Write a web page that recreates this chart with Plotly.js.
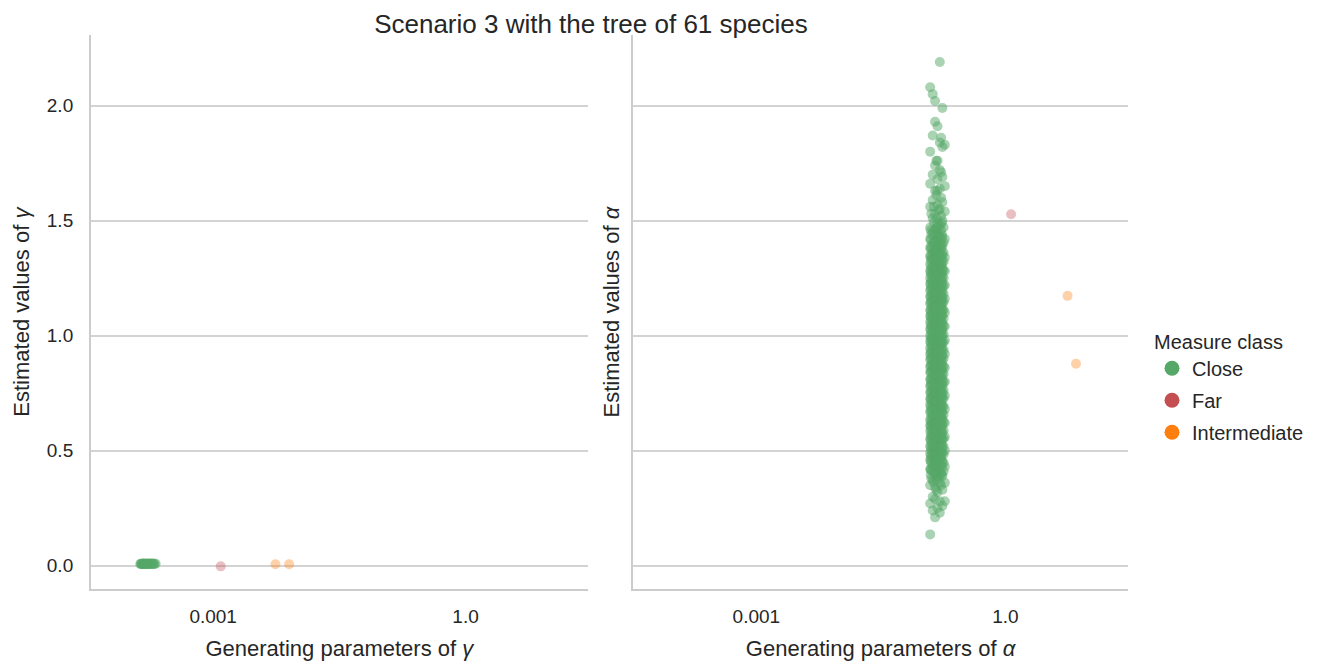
<!DOCTYPE html>
<html>
<head>
<meta charset="utf-8">
<script src="https://cdn.plot.ly/plotly-3.0.1.min.js"></script>
<style>html,body{margin:0;padding:0;background:#fff;}#chart{width:1322px;height:663px;}</style>
</head>
<body>
<div id="chart"></div>
<script>
// ---------- DATA ----------
const classes = ["Close", "Far", "Intermediate"];
const classColors = ["#55a868", "#c44e52", "#ff7f0e"];

// Left panel (gamma): Close points
const closeGammaX = [1.36e-4, 1.39e-4, 1.41e-4, 1.44e-4, 1.46e-4, 1.49e-4, 1.51e-4, 1.54e-4, 1.57e-4, 1.60e-4, 1.63e-4,
  1.66e-4, 1.69e-4, 1.72e-4, 1.75e-4, 1.79e-4, 1.83e-4, 1.87e-4, 1.91e-4, 1.95e-4, 2.00e-4, 2.07e-4];
const closeGammaY = [0.007, 0.008, 0.006, 0.009, 0.007, 0.008, 0.010, 0.006, 0.007, 0.009, 0.008,
  0.007, 0.006, 0.009, 0.008, 0.007, 0.010, 0.008, 0.006, 0.009, 0.007, 0.008];
// Left panel: Far and Intermediate
const farGammaX = [0.00123];
const farGammaY = [-0.003];
const interGammaX = [0.0055, 0.0080];
const interGammaY = [0.006, 0.006];

// Right panel (alpha): Close points, grouped by generating value
const closeAlphaCols = [0.124, 0.126, 0.128, 0.133, 0.137, 0.142, 0.147, 0.150, 0.152, 0.157, 0.162, 0.168, 0.171, 0.174, 0.180, 0.186];
const closeAlphaY_A = [0.136, 0.27, 0.35, 0.42, 0.46, 0.49, 0.52, 0.55, 0.585, 0.61, 0.635, 0.67, 0.70, 0.725, 0.755, 0.78, 0.81, 0.84, 0.865, 0.895, 0.92, 0.945, 0.975, 1.0, 1.03, 1.06, 1.085, 1.11, 1.14, 1.17, 1.195, 1.225, 1.25, 1.28, 1.31, 1.345, 1.38, 1.42, 1.47, 1.56, 1.66, 1.80, 2.08];
const closeAlphaY_K = [0.395, 0.418, 0.455, 0.479, 0.514, 0.546, 0.568, 0.603, 0.628, 0.664, 0.689, 0.724, 0.749, 0.786, 0.808, 0.843, 0.869, 0.904, 0.929, 0.966, 0.988, 1.024, 1.049, 1.083, 1.108, 1.146, 1.168, 1.204, 1.229, 1.266, 1.288, 1.326, 1.349, 1.388, 1.416, 1.458];
const closeAlphaY_H = [0.38, 0.415, 0.445, 0.47, 0.50, 0.53, 0.56, 0.59, 0.615, 0.645, 0.675, 0.705, 0.73, 0.76, 0.79, 0.815, 0.845, 0.875, 0.90, 0.93, 0.955, 0.985, 1.01, 1.04, 1.07, 1.095, 1.125, 1.15, 1.18, 1.21, 1.24, 1.27, 1.30, 1.335, 1.375, 1.44, 1.53];
const closeAlphaY_B = [0.24, 0.30, 0.37, 0.43, 0.475, 0.505, 0.535, 0.565, 0.595, 0.62, 0.65, 0.68, 0.71, 0.735, 0.765, 0.79, 0.82, 0.85, 0.875, 0.905, 0.93, 0.96, 0.985, 1.015, 1.04, 1.07, 1.095, 1.125, 1.155, 1.18, 1.21, 1.235, 1.265, 1.295, 1.33, 1.36, 1.40, 1.45, 1.51, 1.59, 1.70, 1.87, 2.05];
const closeAlphaY_L = [0.362, 0.404, 0.437, 0.463, 0.497, 0.521, 0.557, 0.583, 0.617, 0.643, 0.677, 0.701, 0.737, 0.763, 0.797, 0.823, 0.857, 0.881, 0.917, 0.943, 0.977, 1.003, 1.037, 1.061, 1.097, 1.123, 1.157, 1.183, 1.217, 1.241, 1.277, 1.303, 1.337, 1.367, 1.402, 1.437, 1.492, 1.56];
const closeAlphaY_C = [0.21, 0.29, 0.34, 0.40, 0.45, 0.485, 0.515, 0.545, 0.575, 0.60, 0.63, 0.655, 0.685, 0.715, 0.745, 0.77, 0.80, 0.83, 0.855, 0.885, 0.91, 0.94, 0.965, 0.995, 1.02, 1.05, 1.08, 1.10, 1.13, 1.16, 1.19, 1.215, 1.245, 1.275, 1.305, 1.34, 1.37, 1.41, 1.46, 1.53, 1.63, 1.74, 1.93, 2.02];
const closeAlphaY_I = [0.33, 0.385, 0.425, 0.46, 0.495, 0.525, 0.555, 0.58, 0.61, 0.64, 0.67, 0.695, 0.725, 0.755, 0.78, 0.81, 0.84, 0.865, 0.895, 0.925, 0.95, 0.975, 1.005, 1.035, 1.06, 1.09, 1.12, 1.145, 1.175, 1.20, 1.23, 1.26, 1.29, 1.325, 1.36, 1.40, 1.47, 1.61, 1.76];
const closeAlphaY_M = [0.372, 0.409, 0.441, 0.467, 0.503, 0.527, 0.563, 0.589, 0.622, 0.648, 0.683, 0.709, 0.742, 0.768, 0.803, 0.829, 0.862, 0.888, 0.922, 0.948, 0.983, 1.009, 1.042, 1.068, 1.103, 1.129, 1.162, 1.188, 1.223, 1.249, 1.282, 1.308, 1.343, 1.374, 1.413, 1.452, 1.51, 1.63];
const closeAlphaY_D = [0.25, 0.32, 0.39, 0.44, 0.48, 0.51, 0.54, 0.57, 0.60, 0.625, 0.655, 0.685, 0.71, 0.74, 0.77, 0.795, 0.825, 0.85, 0.88, 0.91, 0.935, 0.96, 0.99, 1.015, 1.045, 1.075, 1.10, 1.13, 1.16, 1.185, 1.215, 1.24, 1.27, 1.30, 1.335, 1.37, 1.41, 1.44, 1.49, 1.57, 1.68, 1.76, 1.91];
const closeAlphaY_N = [0.386, 0.426, 0.451, 0.486, 0.509, 0.546, 0.571, 0.606, 0.629, 0.666, 0.691, 0.726, 0.749, 0.786, 0.811, 0.846, 0.869, 0.906, 0.931, 0.966, 0.989, 1.026, 1.051, 1.086, 1.109, 1.146, 1.171, 1.206, 1.229, 1.266, 1.291, 1.326, 1.352, 1.392, 1.432, 1.474, 1.545];
const closeAlphaY_E = [0.23, 0.28, 0.36, 0.41, 0.465, 0.495, 0.525, 0.555, 0.585, 0.615, 0.645, 0.675, 0.70, 0.73, 0.76, 0.785, 0.815, 0.845, 0.87, 0.90, 0.925, 0.955, 0.98, 1.01, 1.035, 1.065, 1.09, 1.12, 1.15, 1.175, 1.205, 1.23, 1.26, 1.29, 1.32, 1.355, 1.39, 1.43, 1.48, 1.55, 1.64, 1.72, 1.84, 2.19];
const closeAlphaY_J = [0.35, 0.40, 0.435, 0.47, 0.50, 0.53, 0.56, 0.59, 0.62, 0.65, 0.68, 0.705, 0.735, 0.765, 0.79, 0.82, 0.85, 0.88, 0.905, 0.935, 0.965, 0.99, 1.02, 1.05, 1.08, 1.105, 1.135, 1.16, 1.19, 1.22, 1.25, 1.28, 1.31, 1.345, 1.38, 1.42, 1.46, 1.52, 1.60, 1.71, 1.86];
const closeAlphaY_O = [0.397, 0.431, 0.458, 0.491, 0.518, 0.551, 0.578, 0.611, 0.638, 0.671, 0.698, 0.731, 0.758, 0.791, 0.818, 0.851, 0.878, 0.911, 0.938, 0.971, 0.998, 1.031, 1.058, 1.091, 1.118, 1.151, 1.178, 1.211, 1.238, 1.271, 1.298, 1.331, 1.362, 1.398, 1.441, 1.49];
const closeAlphaY_F = [0.26, 0.33, 0.39, 0.45, 0.49, 0.52, 0.55, 0.58, 0.61, 0.64, 0.665, 0.695, 0.725, 0.75, 0.78, 0.805, 0.835, 0.86, 0.89, 0.915, 0.945, 0.97, 1.0, 1.025, 1.055, 1.085, 1.11, 1.14, 1.165, 1.195, 1.225, 1.255, 1.285, 1.315, 1.35, 1.39, 1.43, 1.50, 1.58, 1.69, 1.82, 1.99];
const closeAlphaY_P = [0.41, 0.447, 0.484, 0.518, 0.553, 0.589, 0.624, 0.657, 0.693, 0.728, 0.762, 0.797, 0.833, 0.866, 0.902, 0.937, 0.971, 1.006, 1.042, 1.075, 1.111, 1.146, 1.181, 1.215, 1.251, 1.284, 1.322, 1.361, 1.405, 1.47];
const closeAlphaY_G = [0.28, 0.36, 0.43, 0.50, 0.56, 0.62, 0.68, 0.74, 0.80, 0.86, 0.92, 0.98, 1.04, 1.10, 1.16, 1.22, 1.28, 1.34, 1.42, 1.54, 1.65, 1.83];
const closeAlphaYCols = [closeAlphaY_A, closeAlphaY_K, closeAlphaY_H, closeAlphaY_B, closeAlphaY_L, closeAlphaY_C,
  closeAlphaY_I, closeAlphaY_M, closeAlphaY_D, closeAlphaY_N, closeAlphaY_E, closeAlphaY_J, closeAlphaY_O,
  closeAlphaY_F, closeAlphaY_P, closeAlphaY_G];
// Right panel: Far and Intermediate
const farAlphaX = [1.17];
const farAlphaY = [1.528];
const interAlphaX = [5.6, 7.08];
const interAlphaY = [1.173, 0.878];

const xTickVals = [0.001, 1];
const xTickText = ["0.001", "1.0"];
const yTickVals = [0, 0.5, 1, 1.5, 2];
const yTickText = ["0.0", "0.5", "1.0", "1.5", "2.0"];

// ---------- BUILD ----------
const closeAlphaX = [], closeAlphaY = [];
closeAlphaCols.forEach((cx, i) => {
  closeAlphaYCols[i].forEach(v => { closeAlphaX.push(cx); closeAlphaY.push(v); });
});

const ptSize = 10, ptOpacity = 0.36;
function pts(x, y, color, xa, ya, op) {
  return {type: "scatter", mode: "markers", x: x, y: y, xaxis: xa, yaxis: ya,
    marker: {color: color, size: ptSize, opacity: op, line: {width: 0}},
    showlegend: false, hoverinfo: "x+y"};
}
const traces = [
  pts(closeGammaX, closeGammaY, classColors[0], "x", "y", 0.55),
  pts(farGammaX, farGammaY, classColors[1], "x", "y", ptOpacity),
  pts(interGammaX, interGammaY, classColors[2], "x", "y", ptOpacity),
  pts(closeAlphaX, closeAlphaY, classColors[0], "x2", "y2", 0.5),
  pts(farAlphaX, farAlphaY, classColors[1], "x2", "y2", ptOpacity),
  pts(interAlphaX, interAlphaY, classColors[2], "x2", "y2", ptOpacity)
];
// legend entries (full-opacity markers, as in the reference legend)
classes.forEach((c, i) => {
  traces.push({type: "scatter", mode: "markers", x: [null], y: [null], name: c, legendgroup: c,
    marker: {color: classColors[i], size: 15}, showlegend: true, xaxis: "x2", yaxis: "y2"});
});

const textCol = "#262626";
const gridCol = "#d3d3d3";
const fam = "Liberation Sans, Arial";
function xAxis(dom, rng, title) {
  return {domain: dom, type: "log", range: rng, tickvals: xTickVals, ticktext: xTickText,
    showgrid: false, zeroline: false, showline: true, linecolor: "#cccccc", linewidth: 2,
    ticks: "outside", ticklen: 9, tickcolor: "rgba(0,0,0,0)",
    tickfont: {family: fam, size: 19, color: textCol},
    title: {text: title, font: {family: fam, size: 22, color: textCol}, standoff: 15},
    fixedrange: true};
}
function yAxis(showLabels, title, anchor, tlen, stand) {
  return {domain: [0.1112, 0.9472], range: [-0.1026, 2.307], tickvals: yTickVals, ticktext: yTickText,
    showticklabels: showLabels, showgrid: true, gridcolor: gridCol, gridwidth: 1.8,
    zeroline: false, showline: true, linecolor: "#cccccc", linewidth: 2,
    ticks: tlen > 0 ? "outside" : "", ticklen: tlen, tickcolor: "rgba(0,0,0,0)",
    anchor: anchor,
    tickfont: {family: fam, size: 19, color: textCol},
    title: {text: title, font: {family: fam, size: 22, color: textCol}, standoff: stand},
    fixedrange: true};
}

const layout = {
  width: 1322, height: 663,
  margin: {l: 0, r: 0, t: 0, b: 0},
  paper_bgcolor: "#ffffff", plot_bgcolor: "#ffffff",
  font: {family: fam, color: textCol},
  title: {text: "Scenario 3 with the tree of 61 species", x: 0.447, xanchor: "center",
    y: 0.964, yanchor: "middle", font: {family: fam, size: 26, color: textCol}},
  xaxis: xAxis([0.06884, 0.44455], [-4.452, 1.452], "Generating parameters of <i>γ</i>"),
  xaxis2: xAxis([0.47859, 0.85348], [-4.49, 1.48], "Generating parameters of <i>α</i>"),
  yaxis: yAxis(true, "Estimated values of <i>γ</i>", "x", 12, 11),
  yaxis2: Object.assign(yAxis(false, "Estimated values of <i>α</i>", "x2", 0, 5), {matches: "y"}),
  showlegend: true,
  legend: {x: 0.8714, xanchor: "left", y: 0.416, yanchor: "middle", bgcolor: "rgba(0,0,0,0)",
    font: {family: fam, size: 20, color: textCol}, tracegroupgap: 3,
    title: {text: "Measure class", font: {family: fam, size: 20, color: textCol}},
    itemwidth: 30}
};

Plotly.newPlot("chart", traces, layout, {displayModeBar: false, staticPlot: true});
</script>
</body>
</html>
